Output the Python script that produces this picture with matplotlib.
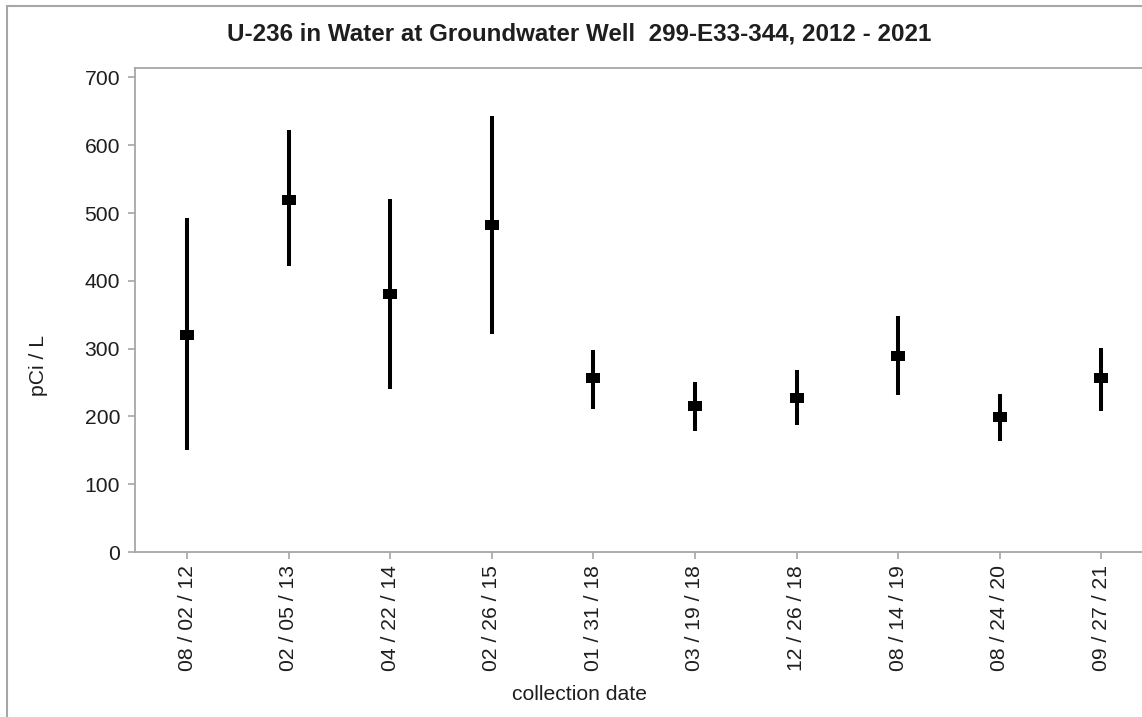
import matplotlib
matplotlib.use("Agg")
import matplotlib.pyplot as plt
from matplotlib.patches import Rectangle
import numpy as np

# U-236 results at well 299-E33-344
dates = ["08 / 02 / 12", "02 / 05 / 13", "04 / 22 / 14", "02 / 26 / 15", "01 / 31 / 18",
         "03 / 19 / 18", "12 / 26 / 18", "08 / 14 / 19", "08 / 24 / 20", "09 / 27 / 21"]
values = [320, 520, 380, 483, 257, 215, 227, 289, 199, 256]
lower = [150, 422, 240, 322, 211, 178, 187, 231, 164, 208]
upper = [492, 622, 521, 643, 298, 251, 269, 348, 233, 301]
yticks = [0, 100, 200, 300, 400, 500, 600, 700]

plt.rcParams["font.family"] = ["Liberation Sans", "DejaVu Sans"]

W, H, DPI = 1142, 717, 100
fig = plt.figure(figsize=(W / DPI, H / DPI), dpi=DPI)
fig.patch.set_facecolor("white")

gray = "#a6a6a6"
txt = "#1e1e1e"

ax = fig.add_axes([135 / W, (H - 552) / H, 1 - 135 / W, (552 - 68) / H])

x = np.arange(len(dates))
vals = np.array(values)
yerr = np.vstack([vals - np.array(lower), np.array(upper) - vals])

rect_marker = [(-1, -0.71), (1, -0.71), (1, 0.71), (-1, 0.71), (-1, -0.71)]
ax.errorbar(x, vals, yerr=yerr, fmt="none", ecolor="black", elinewidth=2.9, capsize=0)
ax.plot(x, vals, linestyle="none", marker=rect_marker, markersize=10.4,
        markerfacecolor="black", markeredgewidth=0, color="black")

ax.set_xlim(-0.512, 9.40)
ax.set_ylim(0, 714)
ax.set_xticks(x)
ax.set_xticklabels(dates, rotation=90, fontsize=15.2, color=txt)
ax.set_yticks(yticks)
ax.set_yticklabels([str(v) for v in yticks], fontsize=15.2, color=txt)

for side in ("left", "bottom", "top"):
    ax.spines[side].set_color(gray)
    ax.spines[side].set_linewidth(1.3)
ax.spines["right"].set_visible(False)
ax.tick_params(axis="both", color=gray, width=1.2, length=5.2)
ax.tick_params(axis="y", pad=5.5)
ax.tick_params(axis="x", pad=4.3)

fig.text(579 / W, 1 - 34 / H, "U-236 in Water at Groundwater Well  299-E33-344, 2012 - 2021",
         ha="center", va="center", fontsize=17.4, fontweight="bold", color=txt)
fig.text(580 / W, 1 - 695 / H, "collection date", ha="center", va="center",
         fontsize=15.2, color=txt)
fig.text(38 / W, 1 - 366 / H, "pCi / L", ha="center", va="center", rotation=90,
         fontsize=15.2, color=txt)

# outer frame of the chart image
fig.add_artist(Rectangle((7 / W, -0.1), 2.0, (H - 6) / H + 0.1, transform=fig.transFigure,
                         fill=False, edgecolor=gray, linewidth=1.5))

fig.savefig("out.png", dpi=DPI, facecolor="white")
